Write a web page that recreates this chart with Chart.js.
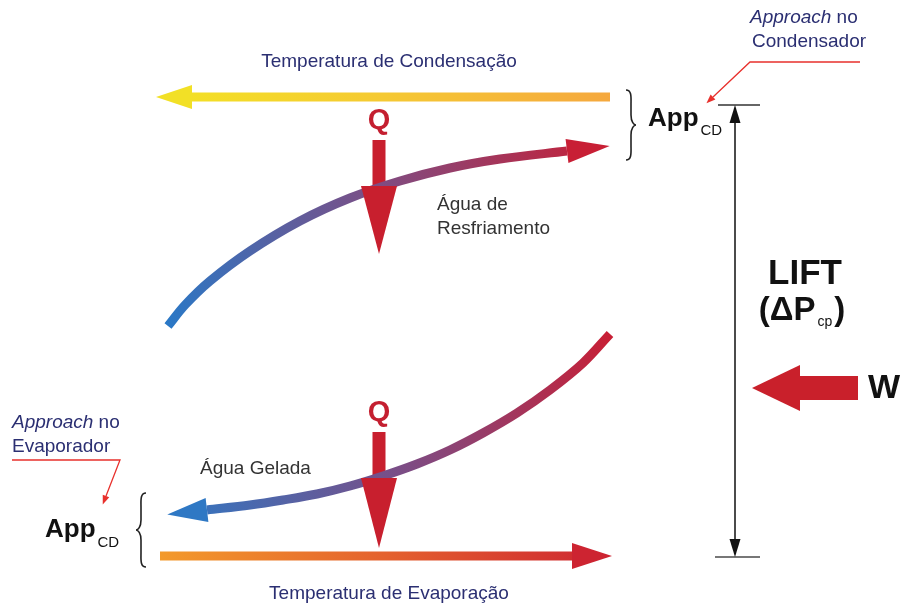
<!DOCTYPE html>
<html>
<head>
<meta charset="utf-8">
<script src="https://cdn.jsdelivr.net/npm/chart.js@4.4.1/dist/chart.umd.min.js"></script>
<style>
  html, body { margin: 0; padding: 0; background: #fff; }
  #wrap { width: 902px; height: 604px; }
</style>
</head>
<body>
<div id="wrap"><canvas id="ciclo"></canvas></div>
<script>
// trajetórias do diagrama (plano 0-902 x 0-604, y para baixo)
var condensacao = [{x: 610, y: 97}, {x: 192, y: 97}];
var resfriamento = [
  {x: 168, y: 326}, {x: 185, y: 305}, {x: 210, y: 281}, {x: 250, y: 251},
  {x: 300, y: 221}, {x: 350, y: 198}, {x: 400, y: 181}, {x: 450, y: 168},
  {x: 500, y: 159}, {x: 567, y: 151}
];
var gelada = [
  {x: 610, y: 334}, {x: 583, y: 363}, {x: 550, y: 390}, {x: 517, y: 413},
  {x: 483, y: 433}, {x: 450, y: 450}, {x: 417, y: 464}, {x: 383, y: 476},
  {x: 350, y: 486}, {x: 317, y: 494}, {x: 283, y: 500}, {x: 250, y: 505}, {x: 207, y: 510}
];
var evaporacao = [{x: 160, y: 556}, {x: 572, y: 556}];
var calorTopo = [{x: 379, y: 140}, {x: 379, y: 186}];
var calorBase = [{x: 379, y: 432}, {x: 379, y: 478}];
var trabalho = [{x: 858, y: 388}, {x: 800, y: 388}];
var lift = [{x: 735, y: 123}, {x: 735, y: 539}];
var marcaTopo = [{x: 718, y: 105}, {x: 760, y: 105}];
var marcaBase = [{x: 715, y: 557}, {x: 760, y: 557}];
var guiaCond = [{x: 860, y: 62}, {x: 750, y: 62}, {x: 713, y: 97}];
var guiaEvap = [{x: 12, y: 460}, {x: 120, y: 460}, {x: 106, y: 496}];

// textos
var tCond = 'Temperatura de Condensação';
var tEvap = 'Temperatura de Evaporação';
var tResf = ['Água de', 'Resfriamento'];
var tGelada = 'Água Gelada';
var tApproach = ['Approach', ' no'];
var tCondensador = 'Condensador';
var tEvaporador = 'Evaporador';
var tApp = ['App', 'CD'];
var tLift = ['LIFT', '(ΔP', 'cp', ')'];

function gradiente(c, p0, p1, cores) {
  var sx = c.scales.x, sy = c.scales.y;
  var g = c.ctx.createLinearGradient(
    sx.getPixelForValue(p0.x), sy.getPixelForValue(p0.y),
    sx.getPixelForValue(p1.x), sy.getPixelForValue(p1.y));
  cores.forEach(function(cor, i) { g.addColorStop(i / (cores.length - 1), cor); });
  return g;
}

function traco(dados, largura, cor, seta, curva) {
  return {
    data: dados, showLine: true, borderWidth: largura, borderColor: cor,
    pointRadius: 0, tension: curva ? 0.35 : 0, borderCapStyle: 'butt',
    borderJoinStyle: 'miter', fill: false, seta: seta
  };
}

// pontas de seta no fim / início de cada traço
var setas = {
  id: 'setas',
  afterDatasetsDraw: function(chart) {
    var ctx = chart.ctx;
    chart.data.datasets.forEach(function(ds, i) {
      if (!ds.seta) return;
      var pts = chart.getDatasetMeta(i).data;
      var desenha = function(a, b, s) {
        var ang = Math.atan2(a.y - b.y, a.x - b.x);
        var tx = a.x + Math.cos(ang) * s.len, ty = a.y + Math.sin(ang) * s.len;
        var nx = -Math.sin(ang) * s.half, ny = Math.cos(ang) * s.half;
        ctx.beginPath();
        ctx.moveTo(tx, ty);
        ctx.lineTo(a.x + nx, a.y + ny);
        ctx.lineTo(a.x - nx, a.y - ny);
        ctx.closePath();
        ctx.fillStyle = s.cor;
        ctx.fill();
      };
      ctx.save();
      if (ds.seta.fim) desenha(pts[pts.length - 1], pts[pts.length - 2], ds.seta.fim);
      if (ds.seta.inicio) desenha(pts[0], pts[1], ds.seta.inicio);
      ctx.restore();
    });
  }
};

// textos e chaves
var rotulos = {
  id: 'rotulos',
  afterDraw: function(chart) {
    var ctx = chart.ctx, sx = chart.scales.x, sy = chart.scales.y;
    var px = function(v) { return sx.getPixelForValue(v); };
    var py = function(v) { return sy.getPixelForValue(v); };
    var fam = '"Liberation Sans", Arial, sans-serif';
    var txt = function(s, x, y, font, cor, align) {
      ctx.font = font + ' ' + fam;
      ctx.fillStyle = cor;
      ctx.textAlign = align || 'left';
      ctx.fillText(s, px(x), py(y));
      return ctx.measureText(s).width;
    };
    ctx.save();
    ctx.textBaseline = 'middle';

    var azul = '#2b2f72', cinza = '#333333', vermelho = '#c41f30';
    txt(tCond, 389, 62, '19px', azul, 'center');
    txt(tEvap, 389, 594, '19px', azul, 'center');

    var w = txt(tApproach[0], 750, 18, 'italic 19px', azul);
    txt(tApproach[1], 750 + w, 18, '19px', azul);
    txt(tCondensador, 752, 42, '19px', azul);
    w = txt(tApproach[0], 12, 423, 'italic 19px', azul);
    txt(tApproach[1], 12 + w, 423, '19px', azul);
    txt(tEvaporador, 12, 447, '19px', azul);

    txt(tResf[0], 437, 205, '19px', cinza);
    txt(tResf[1], 437, 229, '19px', cinza);
    txt(tGelada, 200, 469, '19px', cinza);

    txt('Q', 379, 121, 'bold 29px', vermelho, 'center');
    txt('Q', 379, 413, 'bold 29px', vermelho, 'center');

    w = txt(tApp[0], 648, 119, 'bold 26px', '#111');
    txt(tApp[1], 650 + w, 131, '15px', '#111');
    w = txt(tApp[0], 45, 530, 'bold 26px', '#111');
    txt(tApp[1], 47 + w, 543, '15px', '#111');

    txt(tLift[0], 805, 274, 'bold 35px', '#111', 'center');
    ctx.font = 'bold 33px ' + fam;
    var w1 = ctx.measureText(tLift[1]).width, w3 = ctx.measureText(tLift[3]).width;
    ctx.font = '14px ' + fam;
    var w2 = ctx.measureText(tLift[2]).width + 4;
    var x0 = 802 - (w1 + w2 + w3) / 2;
    txt(tLift[1], x0, 311, 'bold 33px', '#111');
    txt(tLift[2], x0 + w1 + 2, 322, '14px', '#111');
    txt(tLift[3], x0 + w1 + w2, 311, 'bold 33px', '#111');

    txt('W', 884, 389, 'bold 34px', '#111', 'center');

    var chave = function(x, y0, y1, dir, lw) {
      var m = (y0 + y1) / 2, h = lw;
      ctx.beginPath();
      ctx.moveTo(px(x), py(y0));
      ctx.bezierCurveTo(px(x + dir * h * 0.6), py(y0), px(x + dir * h * 0.5), py(y0 + 8), px(x + dir * h * 0.5), py(y0 + 14));
      ctx.lineTo(px(x + dir * h * 0.5), py(m - 10));
      ctx.bezierCurveTo(px(x + dir * h * 0.5), py(m - 3), px(x + dir * h * 0.8), py(m), px(x + dir * h), py(m));
      ctx.bezierCurveTo(px(x + dir * h * 0.8), py(m), px(x + dir * h * 0.5), py(m + 3), px(x + dir * h * 0.5), py(m + 10));
      ctx.lineTo(px(x + dir * h * 0.5), py(y1 - 14));
      ctx.bezierCurveTo(px(x + dir * h * 0.5), py(y1 - 8), px(x + dir * h * 0.6), py(y1), px(x), py(y1));
      ctx.strokeStyle = '#222';
      ctx.lineWidth = 1.6;
      ctx.stroke();
    };
    chave(626, 90, 160, 1, 10);
    chave(146, 493, 567, -1, 10);
    ctx.restore();
  }
};

new Chart(document.getElementById('ciclo'), {
  type: 'scatter',
  data: {
    datasets: [
      traco(condensacao, 9, function(c) {
        if (!c.chart.chartArea) return '#f4c030';
        return gradiente(c.chart, {x: 157, y: 97}, {x: 610, y: 97}, ['#f3e324', '#f5c933', '#f5a83e']);
      }, {fim: {len: 36, half: 12, cor: '#f2e026'}}),
      traco(resfriamento, 9, function(c) {
        if (!c.chart.chartArea) return '#7b4f86';
        return gradiente(c.chart, {x: 168, y: 326}, {x: 610, y: 149}, ['#2a78c6', '#7b4f86', '#c81f35']);
      }, {fim: {len: 43, half: 12, cor: '#c81f35'}}, true),
      traco(gelada, 9, function(c) {
        if (!c.chart.chartArea) return '#7b4f86';
        return gradiente(c.chart, {x: 610, y: 334}, {x: 167, y: 514}, ['#c81f35', '#7d4c84', '#2f78c4']);
      }, {fim: {len: 40, half: 12, cor: '#2f78c4'}}, true),
      traco(evaporacao, 9, function(c) {
        if (!c.chart.chartArea) return '#e06030';
        return gradiente(c.chart, {x: 160, y: 556}, {x: 612, y: 556}, ['#f39a2b', '#e4612e', '#cd2431']);
      }, {fim: {len: 40, half: 13, cor: '#cd2431'}}),
      traco(calorTopo, 13, '#c81f2e', {fim: {len: 68, half: 18, cor: '#c81f2e'}}),
      traco(calorBase, 13, '#c81f2e', {fim: {len: 70, half: 18, cor: '#c81f2e'}}),
      traco(trabalho, 24, '#c9202b', {fim: {len: 48, half: 23, cor: '#c9202b'}}),
      traco(lift, 1.5, '#111', {fim: {len: 18, half: 5.5, cor: '#111'}, inicio: {len: 18, half: 5.5, cor: '#111'}}),
      traco(marcaTopo, 2, '#666'),
      traco(marcaBase, 2, '#777'),
      traco(guiaCond, 1.3, '#e8302c', {fim: {len: 9, half: 3.5, cor: '#e8302c'}}),
      traco(guiaEvap, 1.3, '#e8302c', {fim: {len: 9, half: 3.5, cor: '#e8302c'}})
    ]
  },
  options: {
    responsive: true,
    maintainAspectRatio: false,
    animation: false,
    events: [],
    layout: { padding: 0 },
    plugins: { legend: { display: false }, tooltip: { enabled: false } },
    scales: {
      x: { type: 'linear', min: 0, max: 902, display: false },
      y: { type: 'linear', min: 0, max: 604, reverse: true, display: false }
    }
  },
  plugins: [setas, rotulos]
});
</script>
</body>
</html>
